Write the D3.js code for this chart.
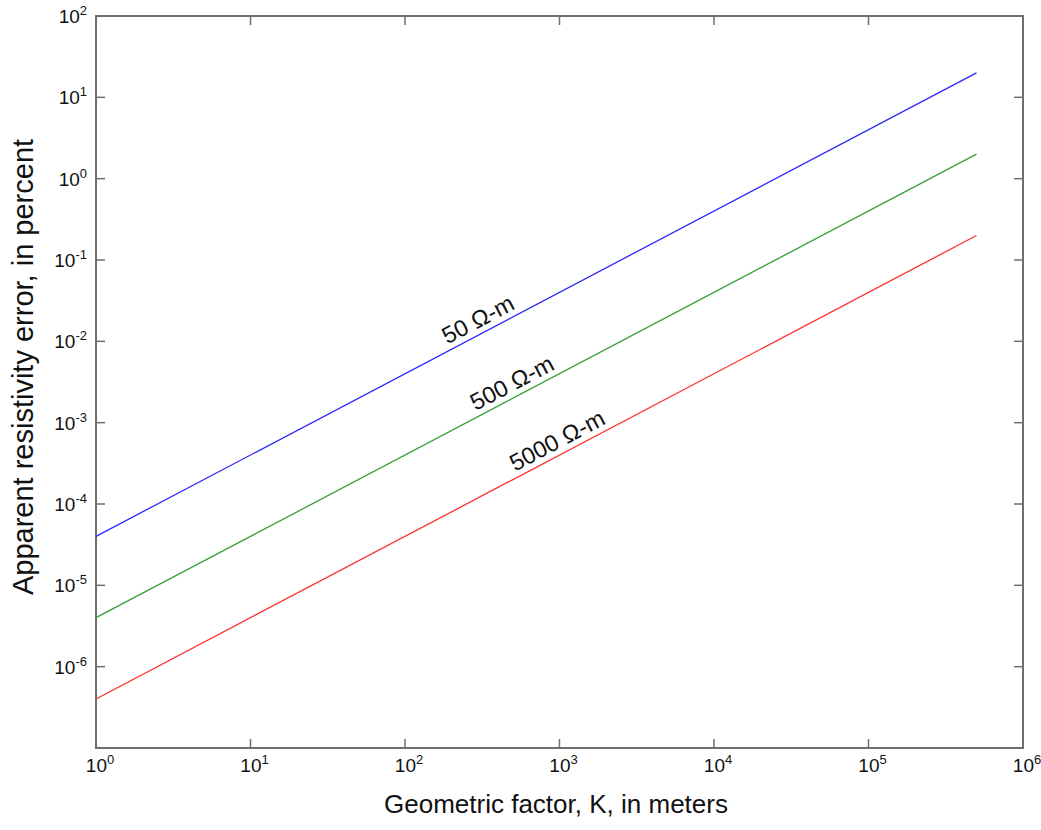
<!DOCTYPE html>
<html>
<head>
<meta charset="utf-8">
<script src="https://cdn.jsdelivr.net/npm/d3@7"></script>
<style>
    body { margin: 0; background: #fff; }
    text { font-family: "Liberation Sans", Arial, sans-serif; fill: #111; }
</style>
</head>
<body>
<svg id="chart" width="1041" height="830"></svg>
<script>
// Geometric factor K (m) at the two ends of each line
const kValues = [1, 5e5];
// Apparent resistivity error (%) for each resistivity
const series = [
    { name: "50 \u03A9-m",   color: "#2a2aff", values: [4e-5, 20],  labelK: 327 },
    { name: "500 \u03A9-m",  color: "#34a034", values: [4e-6, 2],   labelK: 543 },
    { name: "5000 \u03A9-m", color: "#ff3030", values: [4e-7, 0.2], labelK: 1063 }
];
const xTicks = [1, 10, 100, 1e3, 1e4, 1e5, 1e6];
const yTicks = [1e-6, 1e-5, 1e-4, 1e-3, 1e-2, 1e-1, 1, 10, 100];

const margin = { left: 96, top: 16, right: 18, bottom: 82 };
const width = 1041, height = 830;
const svg = d3.select("#chart");

const x = d3.scaleLog().domain([1, 1e6]).range([margin.left, width - margin.right]);
const y = d3.scaleLog().domain([1e-7, 100]).range([height - margin.bottom, margin.top]);

const axisColor = "#6e6e6e";
const tickLen = 9;

// superscript tick label
function powerLabel(sel, v) {
    const e = Math.round(Math.log10(v));
    sel.append("tspan").text("10");
    sel.append("tspan").attr("dy", -8).attr("font-size", 13).text(e);
}

// frame
svg.append("rect")
    .attr("x", x.range()[0]).attr("y", y.range()[1])
    .attr("width", x.range()[1] - x.range()[0])
    .attr("height", y.range()[0] - y.range()[1])
    .attr("fill", "none")
    .attr("stroke", axisColor)
    .attr("stroke-width", 2);

// ticks on all four sides (inside)
const ticks = svg.append("g").attr("stroke", axisColor).attr("stroke-width", 1.5);
xTicks.slice(1, -1).forEach(v => {
    ticks.append("line").attr("x1", x(v)).attr("x2", x(v))
        .attr("y1", y.range()[0]).attr("y2", y.range()[0] - tickLen);
    ticks.append("line").attr("x1", x(v)).attr("x2", x(v))
        .attr("y1", y.range()[1]).attr("y2", y.range()[1] + tickLen);
});
yTicks.forEach(v => {
    if (v === 100) return;
    ticks.append("line").attr("y1", y(v)).attr("y2", y(v))
        .attr("x1", x.range()[0]).attr("x2", x.range()[0] + tickLen);
    ticks.append("line").attr("y1", y(v)).attr("y2", y(v))
        .attr("x1", x.range()[1]).attr("x2", x.range()[1] - tickLen);
});

// tick labels
xTicks.forEach(v => {
    svg.append("text")
        .attr("x", x(v) + 4).attr("y", y.range()[0] + 24)
        .attr("text-anchor", "middle")
        .attr("font-size", 19)
        .call(powerLabel, v);
});
yTicks.forEach(v => {
    svg.append("text")
        .attr("x", x.range()[0] - 9).attr("y", y(v) + 7)
        .attr("text-anchor", "end")
        .attr("font-size", 19)
        .call(powerLabel, v);
});

// lines
const line = d3.line().x(d => x(d[0])).y(d => y(d[1]));
svg.append("g")
    .selectAll("path")
    .data(series)
    .join("path")
    .attr("d", s => line(kValues.map((k, i) => [k, s.values[i]])))
    .attr("fill", "none")
    .attr("stroke", s => s.color)
    .attr("stroke-width", 1.3);

// inline labels along each line
function valueAt(s, k) {
    const t = Math.log(k / kValues[0]) / Math.log(kValues[1] / kValues[0]);
    return Math.exp(Math.log(s.values[0]) + t * Math.log(s.values[1] / s.values[0]));
}
svg.append("g")
    .selectAll("text")
    .data(series)
    .join("text")
    .attr("transform", s => {
        const px = x(s.labelK), py = y(valueAt(s, s.labelK));
        const ang = Math.atan2(y(s.values[1]) - y(s.values[0]), x(kValues[1]) - x(kValues[0])) * 180 / Math.PI;
        return `translate(${px},${py}) rotate(${ang})`;
    })
    .attr("dy", -6)
    .attr("text-anchor", "middle")
    .attr("font-size", 23.5)
    .text(s => s.name);

// axis titles
svg.append("text")
    .attr("x", 556)
    .attr("y", 813)
    .attr("text-anchor", "middle")
    .attr("font-size", 26)
    .text("Geometric factor, K, in meters");

svg.append("text")
    .attr("transform", "translate(33,367) rotate(-90)")
    .attr("text-anchor", "middle")
    .attr("font-size", 29)
    .text("Apparent resistivity error, in percent");
</script>
</body>
</html>
